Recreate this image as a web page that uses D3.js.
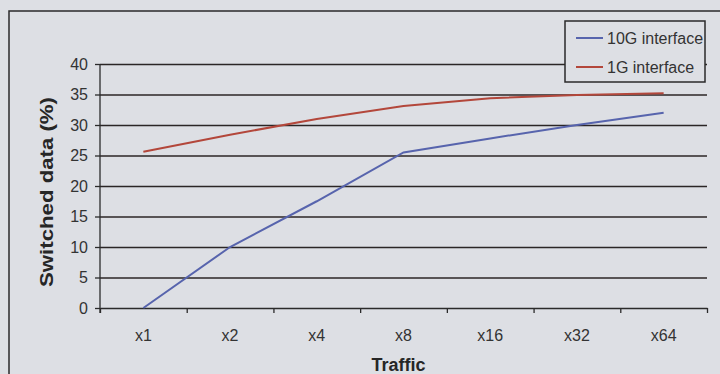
<!DOCTYPE html>
<html>
<head>
<meta charset="utf-8">
<script src="https://cdn.jsdelivr.net/npm/d3@7"></script>
<style>
  html, body { margin: 0; padding: 0; background: #dddfe4; }
  svg { display: block; font-family: "Liberation Sans", Arial, sans-serif; }
  .grid line { stroke: #2b2626; stroke-width: 1.4; }
  .grid path { display: none; }
  .axis path, .axis line { stroke: #2b2b2b; stroke-width: 1.3; }
  .axis text { fill: #333; font-size: 16px; }
  .title { fill: #262626; font-weight: bold; font-size: 18px; }
  .legend text { fill: #333; font-size: 16px; }
</style>
</head>
<body>
<div id="chart"></div>
<script>
const categories = ["x1", "x2", "x4", "x8", "x16", "x32", "x64"];
const seriesNames = ["10G interface", "1G interface"];
const tenG = [0, 10, 17.5, 25.5, 27.8, 30, 32];
const oneG = [25.6, 28.4, 31.0, 33.1, 34.4, 34.9, 35.2];
const yTicks = [0, 5, 10, 15, 20, 25, 30, 35, 40];

const WIDTH = 720, HEIGHT = 374;
const MARGIN = { top: 64, right: 13, bottom: 66, left: 100 };
const COLORS = { "10G interface": "#5764ad", "1G interface": "#b3473b" };

const svg = d3.select("#chart").append("svg")
  .attr("width", WIDTH)
  .attr("height", HEIGHT);

// outer frame of the chart area
svg.append("rect")
  .attr("x", 9).attr("y", 11)
  .attr("width", WIDTH).attr("height", HEIGHT)
  .attr("fill", "none")
  .attr("stroke", "#2a2a2a")
  .attr("stroke-width", 1.5);

const x = d3.scaleBand().domain(categories).range([MARGIN.left, WIDTH - MARGIN.right]).padding(0);
const xEdge = d3.scaleLinear().domain([0, categories.length]).range([MARGIN.left, WIDTH - MARGIN.right]);
const y = d3.scaleLinear().domain([0, 40]).range([HEIGHT - MARGIN.bottom, MARGIN.top]);

svg.append("g")
  .attr("class", "grid")
  .attr("transform", `translate(${MARGIN.left},0)`)
  .call(d3.axisLeft(y).tickValues(yTicks.filter((d) => d > 0))
    .tickSize(-(WIDTH - MARGIN.left - MARGIN.right)).tickFormat(""));

// y axis with outward ticks
svg.append("g")
  .attr("class", "axis")
  .attr("transform", `translate(${MARGIN.left},0)`)
  .call(d3.axisLeft(y).tickValues(yTicks).tickSize(5).tickSizeOuter(0).tickPadding(7))
  .call((g) => g.select(".domain").attr("d", `M0,${y(40)}V${y(0) + 5}`));

// x axis: ticks at category boundaries, labels at centres
svg.append("g")
  .attr("class", "axis")
  .attr("transform", `translate(0,${y(0)})`)
  .call(d3.axisBottom(xEdge).ticks(categories.length).tickSize(5).tickSizeOuter(0).tickFormat(""));

svg.append("g")
  .attr("class", "axis")
  .attr("transform", `translate(0,${y(0)})`)
  .call(d3.axisBottom(x).tickSize(0).tickPadding(22))
  .call((g) => g.select(".domain").remove());

svg.append("text")
  .attr("class", "title")
  .attr("x", x("x8") + x.bandwidth() / 2 - 5)
  .attr("y", 371)
  .attr("text-anchor", "middle")
  .text("Traffic");

svg.append("text")
  .attr("class", "title")
  .attr("transform", "rotate(-90)")
  .attr("x", -192)
  .attr("y", 53)
  .attr("text-anchor", "middle")
  .attr("textLength", 190)
  .attr("lengthAdjust", "spacingAndGlyphs")
  .text("Switched data (%)");

const line = d3.line()
  .x((d, i) => x(categories[i]) + x.bandwidth() / 2)
  .y((d) => y(d));

const seriesData = [
  { name: "10G interface", values: tenG },
  { name: "1G interface", values: oneG },
];

svg.append("g")
  .selectAll("path")
  .data(seriesData)
  .join("path")
  .attr("fill", "none")
  .attr("stroke", (d) => COLORS[d.name])
  .attr("stroke-width", 2)
  .attr("d", (d) => line(d.values));

// legend
const legend = svg.append("g").attr("class", "legend").attr("transform", "translate(565,21)");
legend.append("rect")
  .attr("width", 140).attr("height", 61)
  .attr("fill", "#dddfe4")
  .attr("stroke", "#2a2a2a")
  .attr("stroke-width", 1.5);

legend.selectAll("g")
  .data(seriesNames)
  .join("g")
  .attr("transform", (_, i) => `translate(0,${17 + i * 29})`)
  .each(function (d) {
    const g = d3.select(this);
    g.append("line")
      .attr("x1", 11).attr("x2", 38)
      .attr("stroke", COLORS[d]).attr("stroke-width", 2);
    g.append("text").attr("x", 42).attr("y", 6).text(d);
  });
</script>
</body>
</html>
